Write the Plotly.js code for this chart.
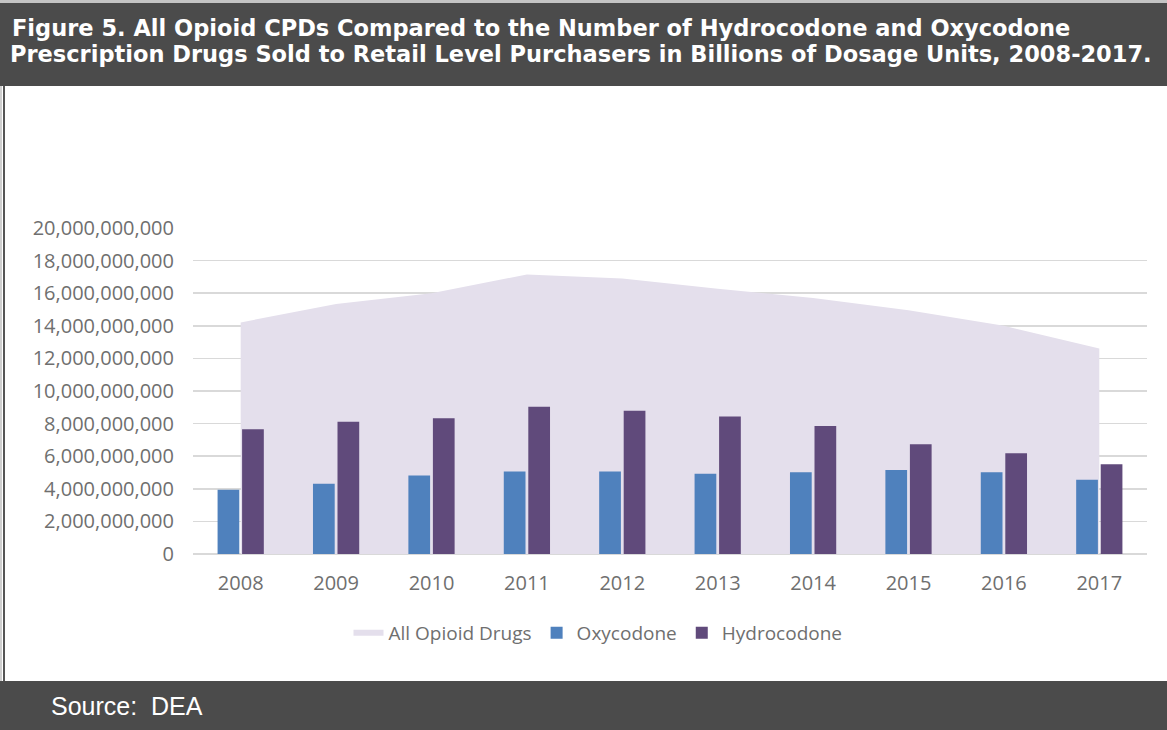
<!DOCTYPE html>
<html>
<head>
<meta charset="utf-8">
<script src="https://cdn.plot.ly/plotly-3.0.1.min.js"></script>
<style>
  html, body { margin: 0; padding: 0; background: #ffffff; }
  #chart { width: 1167px; height: 730px; }
</style>
</head>
<body>
<div id="chart"></div>
<script>
// ---- data ----
var years = ['2008', '2009', '2010', '2011', '2012', '2013', '2014', '2015', '2016', '2017'];
var allOpioidDrugs = [14.21e9, 15.33e9, 16.0e9, 17.15e9, 16.9e9, 16.27e9, 15.71e9, 14.96e9, 14.0e9, 12.61e9];
var oxycodone = [3.94e9, 4.31e9, 4.81e9, 5.06e9, 5.06e9, 4.92e9, 5.02e9, 5.16e9, 5.02e9, 4.55e9];
var hydrocodone = [7.65e9, 8.12e9, 8.33e9, 9.04e9, 8.79e9, 8.43e9, 7.86e9, 6.74e9, 6.18e9, 5.51e9];
var seriesNames = ['All Opioid Drugs', 'Oxycodone', 'Hydrocodone'];
var titleLine1 = 'Figure 5. All Opioid CPDs Compared to the Number of Hydrocodone and Oxycodone';
var titleLine2 = 'Prescription Drugs Sold to Retail Level Purchasers in Billions of Dosage Units, 2008-2017.';
var sourceText = 'Source:&nbsp; DEA';

// ---- layout helpers: pixel -> paper coordinates ----
var W = 1167, H = 730;
var M = { l: 193, r: 20, t: 228, b: 176 };
var PW = W - M.l - M.r, PH = H - M.t - M.b;
function X(px) { return (px - M.l) / PW; }
function Y(py) { return (H - M.b - py) / PH; }

var gray = '#6f6f6f';
var tickFont = { family: 'Open Sans, sans-serif', size: 20, color: gray };
var legendFont = { family: 'Open Sans, sans-serif', size: 19, color: gray };
var yRange = [0, 20e9];

var traces = [
  {
    type: 'scatter', x: years, y: allOpioidDrugs, name: seriesNames[0],
    mode: 'none', fill: 'tozeroy', fillcolor: '#e4dfec', hoverinfo: 'skip',
    xaxis: 'x', yaxis: 'y'
  },
  {
    type: 'bar', x: years, y: oxycodone, name: seriesNames[1],
    marker: { color: '#4f81bd' }, hoverinfo: 'skip', xaxis: 'x2', yaxis: 'y2'
  },
  {
    type: 'bar', x: years, y: hydrocodone, name: seriesNames[2],
    marker: { color: '#604a7b' }, hoverinfo: 'skip', xaxis: 'x2', yaxis: 'y2'
  }
];

var layout = {
  width: W, height: H,
  margin: M,
  paper_bgcolor: '#ffffff', plot_bgcolor: 'rgba(0,0,0,0)',
  barmode: 'group', bargap: 0.486, bargroupgap: 0.114,
  showlegend: true,
  legend: {
    orientation: 'h', x: X(598), xanchor: 'center', y: Y(633), yanchor: 'middle',
    font: legendFont, bgcolor: 'rgba(0,0,0,0)', traceorder: 'normal'
  },
  xaxis: {
    type: 'category', tickfont: tickFont, showgrid: false, showline: false,
    ticks: '', ticklabelstandoff: 15, fixedrange: true
  },
  yaxis: {
    range: yRange, dtick: 2e9, tick0: 0, tickformat: ',d',
    tickfont: tickFont, showgrid: true, gridcolor: '#d9d9d9', gridwidth: 1.5,
    zeroline: true, zerolinecolor: '#d9d9d9', zerolinewidth: 1.5,
    showline: false, ticks: '', ticklabelstandoff: 18, fixedrange: true
  },
  xaxis2: {
    type: 'category', overlaying: 'x', matches: 'x', showticklabels: false,
    showgrid: false, showline: false, ticks: '', zeroline: false, fixedrange: true
  },
  yaxis2: {
    range: yRange, overlaying: 'y', showticklabels: false, showgrid: false,
    showline: false, ticks: '', zeroline: false, fixedrange: true
  },
  shapes: [
    { type: 'rect', xref: 'paper', yref: 'paper', x0: X(0), x1: X(W), y0: Y(3), y1: Y(0),
      fillcolor: '#c4c4c4', line: { width: 0 }, layer: 'below' },
    { type: 'rect', xref: 'paper', yref: 'paper', x0: X(0), x1: X(W), y0: Y(86), y1: Y(3),
      fillcolor: '#4b4b4b', line: { width: 0 }, layer: 'below' },
    { type: 'rect', xref: 'paper', yref: 'paper', x0: X(0), x1: X(W), y0: Y(H), y1: Y(681),
      fillcolor: '#4b4b4b', line: { width: 0 }, layer: 'below' },
    { type: 'line', xref: 'paper', yref: 'paper', x0: X(4), x1: X(4), y0: Y(681), y1: Y(86),
      line: { color: '#555555', width: 2 } },
    { type: 'line', xref: 'paper', yref: 'paper', x0: X(1), x1: X(1), y0: Y(681), y1: Y(86),
      line: { color: '#cfcfcf', width: 2 } }
  ],
  annotations: [
    { xref: 'paper', yref: 'paper', x: X(10), y: Y(28), xanchor: 'left', yanchor: 'middle',
      text: '<b>' + titleLine1 + '</b>', showarrow: false,
      font: { family: 'DejaVu Sans, sans-serif', size: 22.5, color: '#ffffff' } },
    { xref: 'paper', yref: 'paper', x: X(8), y: Y(54), xanchor: 'left', yanchor: 'middle',
      text: '<b>' + titleLine2 + '</b>', showarrow: false,
      font: { family: 'DejaVu Sans, sans-serif', size: 22.5, color: '#ffffff' } },
    { xref: 'paper', yref: 'paper', x: X(49), y: Y(706), xanchor: 'left', yanchor: 'middle',
      text: sourceText, showarrow: false,
      font: { family: 'Liberation Sans, Arial, sans-serif', size: 25, color: '#ffffff' } }
  ]
};

Plotly.newPlot('chart', traces, layout, { displayModeBar: false, staticPlot: true });
</script>
</body>
</html>
